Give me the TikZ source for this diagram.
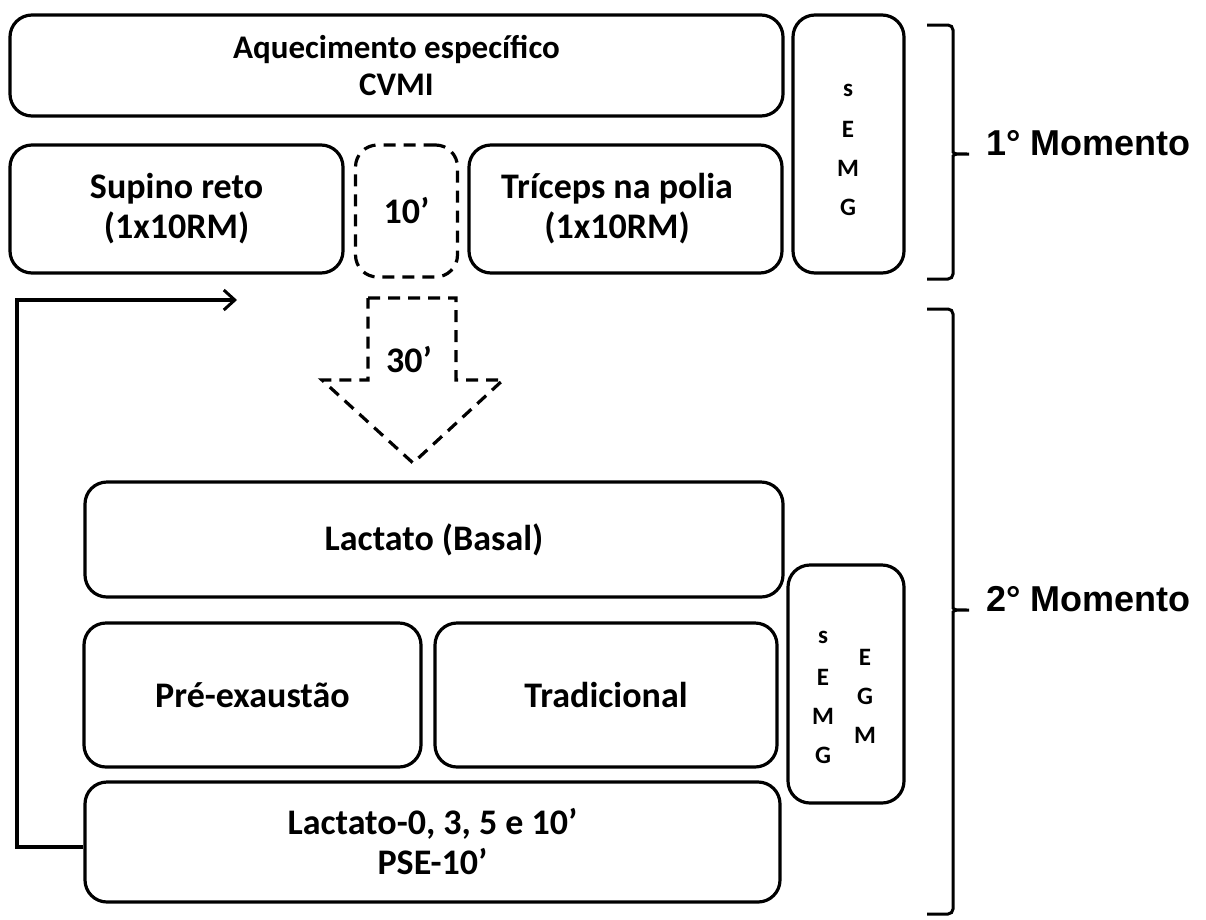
\documentclass[tikz,border=0pt]{standalone}
\usepackage{fontspec}
\setmainfont{Carlito}
\newfontfamily\arialfont{Liberation Sans}
\usetikzlibrary{arrows.meta}
\tikzset{
  box/.style={draw, line width=3.2pt, rounded corners=22pt, inner sep=0pt, align=center,
    font=\bfseries\fontsize{36}{40}\selectfont},
  dbox/.style={box, dash pattern=on 12pt off 8pt},
  smalltxt/.style={font=\bfseries\fontsize{33}{37}\selectfont},
  let/.style={font=\bfseries\fontsize{25}{26}\selectfont},
  mom/.style={anchor=west, font=\arialfont\bfseries\fontsize{36}{40}\selectfont},
  brk/.style={line width=3pt, rounded corners=5pt},
  conn/.style={line width=3.2pt},
}
\begin{document}
\begin{tikzpicture}[x=1pt, y=-1pt]
\useasboundingbox (0,0) rectangle (1206,919);
% first moment
\node[box, smalltxt, minimum width=773pt, minimum height=101pt] (aq) at (396.5,65.5) {Aquecimento específico\\CVMI};
\node[box, minimum width=333pt, minimum height=128pt] (sup) at (176.5,209) {Supino reto\\(1x10RM)};
\node[dbox, minimum width=102pt, minimum height=132pt] (ten) at (406.5,211) {10’};
\node[box, minimum width=313pt, minimum height=128pt] (tri) at (625.5,209) {};
\node (trit) at (617,209) [align=center, font=\bfseries\fontsize{36}{40}\selectfont] {Tríceps na polia\\(1x10RM)};
\node[box, minimum width=111pt, minimum height=258pt] (semg1) at (848.5,144) {};
\node[let] (s1) at (848,90) {s};
\node[let] (e1) at (848,129) {E};
\node[let] (m1) at (848,168) {M};
\node[let] (g1) at (848,207) {G};
% dashed arrow
\coordinate (a1) at (368,298);
\coordinate (a2) at (456,298);
\coordinate (a3) at (456,380);
\coordinate (a4) at (503,380);
\coordinate (a5) at (413,463);
\coordinate (a6) at (322,380);
\coordinate (a7) at (368,380);
\draw[conn, dash pattern=on 12pt off 8pt] (a1) -- (a2) -- (a3) -- (a4) -- (a5) -- (a6) -- (a7) -- cycle;
\node[font=\bfseries\fontsize{36}{40}\selectfont] (thirty) at (409,360) {30’};
% second moment
\node[box, minimum width=698pt, minimum height=115pt] (lb) at (434,539.5) {Lactato (Basal)};
\node[box, minimum width=337pt, minimum height=144pt] (pre) at (252.5,695) {Pré-exaustão};
\node[box, minimum width=342pt, minimum height=144pt] (tra) at (606,695) {Tradicional};
\node[box, minimum width=116pt, minimum height=238pt] (semg2) at (846,684) {};
\node[let] (s2) at (823,637) {s};
\node[let] (e2) at (823,677) {E};
\node[let] (m2) at (823,716) {M};
\node[let] (g2) at (823,755) {G};
\node[let] (e3) at (865,657) {E};
\node[let] (g3) at (865,696) {G};
\node[let] (m3) at (865,735) {M};
\node[box, minimum width=695pt, minimum height=120pt] (lz) at (432.5,842) {Lactato-0, 3, 5 e 10’\\PSE-10’};
% feedback arrow
\coordinate (f1) at (17,847);
\coordinate (f2) at (17,300);
\coordinate (f3) at (237,300);
\draw[conn, -{Straight Barb[length=11pt, width=20pt, line width=3pt]}] (lz.west |- f1) -- (f1) -- (f2) -- (f3);
% brackets
\draw[brk] (927,25) -- (953,25) -- (953,147) to[out=-90,in=180] (972,154) to[out=180,in=90] (953,161) -- (953,279) -- (927,279);
\node[mom] (m1l) at (983,143) {1° Momento};
\draw[brk] (927,309) -- (953,309) -- (953,603) to[out=-90,in=180] (972,610) to[out=180,in=90] (953,617) -- (953,914) -- (927,914);
\node[mom] (m2l) at (983,599) {2° Momento};
\end{tikzpicture}
\end{document}
